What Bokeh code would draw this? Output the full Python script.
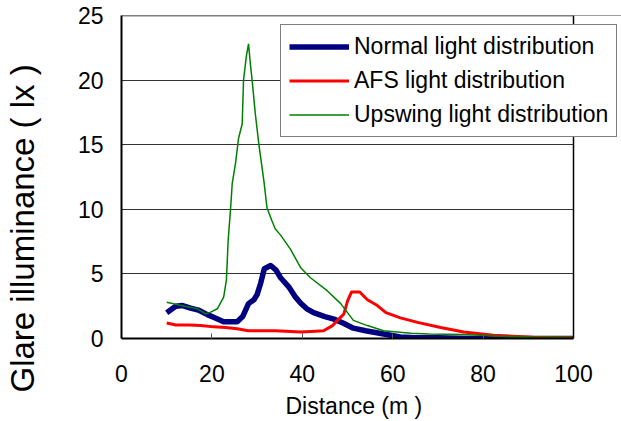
import math
from bokeh.plotting import figure
from bokeh.models import Range1d, FixedTicker, Legend, LegendItem, Span, BoxAnnotation, Title, LinearAxis
from bokeh.embed import file_html
from bokeh.resources import INLINE

FONT = "Liberation Sans"

normal_x = [10, 12, 13.5, 15.3, 17, 19, 21, 22.6, 24, 25.6, 26.8, 28.1, 29.3, 30, 30.8, 31.6, 33, 34.2, 35.2, 37, 38.5, 39.6, 41, 42.5, 45, 47, 49, 51.3, 54, 58, 61.7, 65, 70, 77, 85, 92, 100]
normal_y = [2.0, 2.5, 2.55, 2.35, 2.2, 1.85, 1.55, 1.3, 1.3, 1.3, 1.7, 2.7, 3.0, 3.4, 4.3, 5.4, 5.65, 5.3, 4.7, 4.0, 3.2, 2.75, 2.3, 2.0, 1.7, 1.5, 1.2, 0.8, 0.6, 0.35, 0.12, 0.05, 0.05, 0.0, 0.0, 0.0, 0.0]

afs_x = [10, 12, 15, 17.5, 20.4, 23, 25.6, 28, 30.8, 34, 37.4, 39.6, 42, 44.7, 46.7, 47.8, 49.2, 50, 50.9, 52.7, 54.4, 56.6, 58.5, 61.7, 65.5, 70.6, 75.7, 82.3, 91, 100]
afs_y = [1.2, 1.05, 1.05, 1.0, 0.9, 0.85, 0.75, 0.6, 0.6, 0.6, 0.55, 0.5, 0.55, 0.6, 1.0, 1.4, 1.9, 2.9, 3.6, 3.6, 3.0, 2.55, 2.0, 1.6, 1.25, 0.85, 0.5, 0.25, 0.1, 0.05]

upswing_x = [10, 12, 14, 16.8, 18.6, 19.5, 21.2, 22.6, 23.2, 23.4, 23.6, 24.1, 24.5, 25.2, 25.9, 26.7, 27.0, 27.6, 28.1, 28.5, 28.9, 29.6, 30.4, 31.5, 32.2, 33.3, 34.0, 35.2, 37.4, 39.6, 41.8, 45.5, 48.5, 50, 51.3, 54.4, 58, 64, 68, 75.6, 83, 91, 100]
upswing_y = [2.8, 2.65, 2.5, 2.3, 1.9, 2.0, 2.3, 3.2, 4.5, 6.0, 7.6, 9.9, 12.0, 13.5, 15.5, 16.6, 20.0, 21.8, 22.8, 21.3, 20.0, 17.4, 15.0, 12.2, 10.1, 9.1, 8.5, 8.0, 6.9, 5.5, 4.7, 3.7, 2.7, 2.0, 1.4, 1.0, 0.6, 0.4, 0.35, 0.3, 0.2, 0.12, 0.08]

x_ticks = [0, 20, 40, 60, 80, 100]
y_ticks = [0, 5, 10, 15, 20, 25]
series_names = ["Normal light distribution", "AFS light distribution", "Upswing light distribution"]
x_title = "Distance (m )"
y_title = "Glare illuminance ( lx )"

X_MAX = 100
Y_MAX = 25
# the frame reaches the right edge of the page so that the legend is not clipped;
# the chart area itself ends at X_MAX
x_view_end = X_MAX * 500 / 452

p = figure(frame_width=500, frame_height=323, output_backend="svg", toolbar_location=None,
           x_range=Range1d(0, x_view_end), y_range=Range1d(0, Y_MAX),
           min_border_left=121, min_border_right=0, min_border_top=15, min_border_bottom=83)
p.background_fill_color = "white"
p.border_fill_color = "white"
p.outline_line_color = None

p.xgrid.visible = False
p.ygrid.ticker = FixedTicker(ticks=[5, 10, 15, 20])
p.ygrid.grid_line_color = "#333333"
p.ygrid.grid_line_width = 1

# top border of the chart area
p.add_layout(Span(location=Y_MAX, dimension="width", line_color="black", line_width=1.5, level="underlay"))
# blank out everything right of the chart area
p.add_layout(BoxAnnotation(left=X_MAX, fill_color="white", fill_alpha=1, line_color=None, level="underlay"))
# right border of the chart area
p.add_layout(Span(location=X_MAX, dimension="height", line_color="black", line_width=1.5))

r1 = p.line(normal_x, normal_y, line_color="#000080", line_width=5.5, line_join="round")
r2 = p.line(afs_x, afs_y, line_color="#ff0000", line_width=3, line_join="round")
r3 = p.line(upswing_x, upswing_y, line_color="#008000", line_width=1.5)

p.xaxis.ticker = FixedTicker(ticks=x_ticks)
p.yaxis.ticker = FixedTicker(ticks=y_ticks)
p.xaxis.bounds = (0, X_MAX)
for ax in (p.xaxis[0], p.yaxis[0]):
    ax.axis_line_color = "black"
    ax.axis_line_width = 2
    ax.major_label_text_font = FONT
    ax.major_label_text_font_size = "23px"
    ax.major_label_text_color = "black"
    ax.minor_tick_line_color = None
p.xaxis.major_tick_in = 5
p.xaxis.major_tick_out = 0
p.xaxis.major_tick_line_color = "#555555"
p.yaxis.major_tick_line_color = None
p.yaxis.major_tick_in = 0
p.yaxis.major_tick_out = 0
p.xaxis.major_label_standoff = 26
p.yaxis.major_label_standoff = 18

# blank spacer axis (invisible tick, empty label) that pushes the y title further left
spacer = LinearAxis(ticker=FixedTicker(ticks=[0]), major_label_overrides={0: ""},
                    axis_line_color=None, major_tick_line_color=None, minor_tick_line_color=None,
                    major_tick_in=0, major_tick_out=33, minor_tick_in=0, minor_tick_out=0,
                    major_label_standoff=0)
p.add_layout(spacer, "left")

# axis titles as side titles, so that they can be placed like in the reference
xt = Title(text=x_title, align="left", offset=164, standoff=13,
           text_font=FONT, text_font_size="23px", text_font_style="normal", text_color="black")
p.add_layout(xt, "below")
yt = Title(text=y_title, align="left", offset=-54, standoff=2,
           text_font=FONT, text_font_size="33px", text_font_style="normal", text_color="black")
p.add_layout(yt, "left")

legend = Legend(items=[LegendItem(label=series_names[0], renderers=[r1]),
                       LegendItem(label=series_names[1], renderers=[r2]),
                       LegendItem(label=series_names[2], renderers=[r3])],
                location=(159, 201), padding=8, spacing=7, margin=0,
                glyph_width=60, glyph_height=27, label_height=27, label_standoff=5,
                label_text_font=FONT, label_text_font_size="23px", label_text_color="black",
                border_line_color="black", border_line_width=1,
                background_fill_color="white", background_fill_alpha=1)
p.add_layout(legend, "center")

open("out.html", "w").write(file_html(p, INLINE))
